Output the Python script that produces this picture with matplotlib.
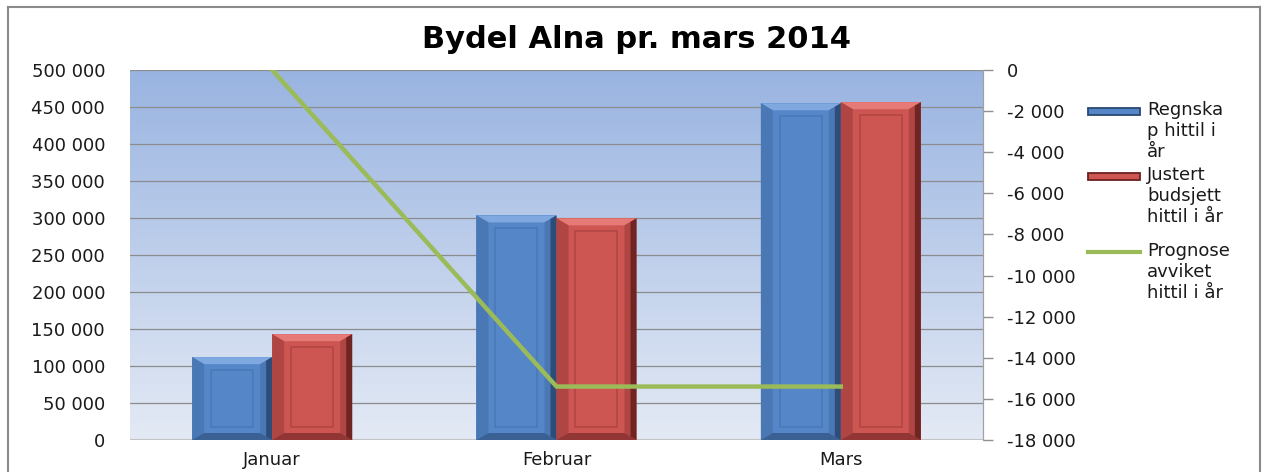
import numpy as np
import matplotlib.pyplot as plt
from matplotlib.patches import Polygon, Rectangle
from matplotlib.lines import Line2D
from matplotlib.ticker import FuncFormatter

# data
months = ["Januar", "Februar", "Mars"]
regnskap = [112000, 303500, 455000]
budsjett = [143000, 299500, 456500]
prognose = [0, -15400, -15400]

series_names = ["Regnska\np hittil i\når", "Justert\nbudsjett\nhittil i år",
                "Prognose\navviket\nhittil i år"]

blue = {"face": "#5587c8", "light": "#7fa8e0", "dark": "#2a4872", "mid": "#4a78b5"}
red = {"face": "#cd5552", "light": "#e57a76", "dark": "#6a2220", "mid": "#b04643"}
green = "#9bbb59"

plt.rcParams['font.family'] = ['DejaVu Sans']


def space_fmt(v, pos):
    s = "{:,.0f}".format(v).replace(",", " ")
    return s


def bevel_bar(ax, x0, w, h, col, px_x, px_y):
    """draw one bar with a simple bevel look"""
    x1 = x0 + w
    bx = 12 * px_x
    by = 7 * px_y
    ax.add_patch(Rectangle((x0, 0), w, h, facecolor=col["face"], edgecolor="none", zorder=3))
    # top light band
    ax.add_patch(Polygon([(x0, h), (x1, h), (x1 - bx, h - by), (x0 + bx, h - by)],
                         closed=True, facecolor=col["light"], edgecolor="none", zorder=4))
    # left side
    ax.add_patch(Polygon([(x0, 0), (x0, h), (x0 + bx, h - by), (x0 + bx, by)],
                         closed=True, facecolor=col["mid"], edgecolor="none", zorder=4))
    # right side darker, two steps for a gradient feel
    ax.add_patch(Polygon([(x1, 0), (x1, h), (x1 - bx, h - by), (x1 - bx, by)],
                         closed=True, facecolor=col["mid"], edgecolor="none", zorder=4))
    ax.add_patch(Polygon([(x1, 0), (x1, h), (x1 - bx / 2, h - by / 2), (x1 - bx / 2, by / 2)],
                         closed=True, facecolor=col["dark"], edgecolor="none", zorder=4, alpha=0.9))
    # bottom
    ax.add_patch(Polygon([(x0, 0), (x1, 0), (x1 - bx, by), (x0 + bx, by)],
                         closed=True, facecolor=col["dark"], edgecolor="none", zorder=4, alpha=0.6))
    # inner outline
    ix = 19 * px_x
    iy = 13 * px_y
    if h > 3 * iy:
        ax.add_patch(Rectangle((x0 + ix, iy), w - 2 * ix, h - 2 * iy, facecolor="none",
                               edgecolor=col["mid"], linewidth=1.1, zorder=5))


fig = plt.figure(figsize=(12.65, 4.72), dpi=100)
fig.patch.set_facecolor("white")

# outer frame of the chart object
frame_kw = dict(transform=fig.transFigure, color="#8a8a8a", linewidth=1.5)
fig.add_artist(Line2D([8 / 1265, 8 / 1265], [0, 1 - 7 / 472], **frame_kw))
fig.add_artist(Line2D([8 / 1265, 1260 / 1265], [1 - 7 / 472, 1 - 7 / 472], **frame_kw))
fig.add_artist(Line2D([1260 / 1265, 1260 / 1265], [0, 1 - 7 / 472], **frame_kw))

left, right = 130 / 1265, 983 / 1265
bottom, top = 1 - 440 / 472, 1 - 70 / 472
ax = fig.add_axes([left, bottom, right - left, top - bottom])
ax.set_xlim(-0.5, 2.5)
ax.set_ylim(0, 500000)

# gradient background
grad = np.linspace(0, 1, 256).reshape(-1, 1)
c_top = np.array([0x99, 0xb4, 0xe1]) / 255
c_bot = np.array([0xe4, 0xea, 0xf5]) / 255
img = c_bot + (c_top - c_bot) * grad
ax.imshow(img[:, None, :].repeat(2, axis=1), extent=(-0.5, 2.5, 0, 500000), aspect="auto",
          origin="lower", zorder=0)

ax.set_yticks(np.arange(0, 500001, 50000))
ax.yaxis.set_major_formatter(FuncFormatter(space_fmt))
ax.grid(axis="y", color="#8c8c8c", linewidth=0.9, zorder=1)
ax.tick_params(axis="y", length=0, labelsize=13, pad=18, colors="#1a1a1a")
ax.set_xticks(range(len(months)))
ax.set_xticklabels(months)
ax.tick_params(axis="x", length=0, labelsize=13, pad=8, colors="#1a1a1a")
for s in ["top", "left", "bottom"]:
    ax.spines[s].set_visible(False)
ax.spines["right"].set_color("#a0a0a0")
ax.axhline(0, color="#c4c4c4", linewidth=1.5, zorder=2)

px_x = 3 / 853
px_y = 500000 / 370
w = 80 * px_x
x = np.arange(len(months))
for i in range(len(months)):
    bevel_bar(ax, x[i] - w, w, regnskap[i], blue, px_x, px_y)
    bevel_bar(ax, x[i], w, budsjett[i], red, px_x, px_y)

ax2 = ax.twinx()
ax2.set_ylim(-18000, 0)
ax2.set_yticks(np.arange(-18000, 1, 2000))
ax2.yaxis.set_major_formatter(FuncFormatter(space_fmt))
ax2.tick_params(axis="y", length=7.5, width=1, color="#909090", labelcolor="#1a1a1a",
                labelsize=13, pad=10)
for s in ["top", "left", "bottom"]:
    ax2.spines[s].set_visible(False)
ax2.spines["right"].set_color("#a0a0a0")
ax2.plot(x, prognose, color=green, linewidth=3.2, zorder=6)

fig.text(636 / 1265, 1 - 40 / 472, "Bydel Alna pr. mars 2014", ha="center", va="center",
         fontsize=22, fontweight="bold", color="black")

# legend drawn by hand
leg_x0, leg_x1 = 1088 / 1265, 1140 / 1265
txt_x = 1147 / 1265
hh = 7 / 472
for col, ytop in [(blue, 111), (red, 176)]:
    yc = 1 - ytop / 472
    fig.add_artist(Rectangle((leg_x0, yc - hh / 2), leg_x1 - leg_x0, hh, transform=fig.transFigure,
                             facecolor=col["face"], edgecolor=col["dark"], linewidth=1.3))
yc = 1 - 252 / 472
fig.add_artist(Line2D([leg_x0, leg_x1], [yc, yc], transform=fig.transFigure, color=green, linewidth=3))
for name, ytop in zip(series_names, [101, 166, 242]):
    fig.text(txt_x, 1 - ytop / 472, name, ha="left", va="top", fontsize=13, color="#1a1a1a",
             linespacing=1.22)

fig.savefig("out.png", dpi=100)
